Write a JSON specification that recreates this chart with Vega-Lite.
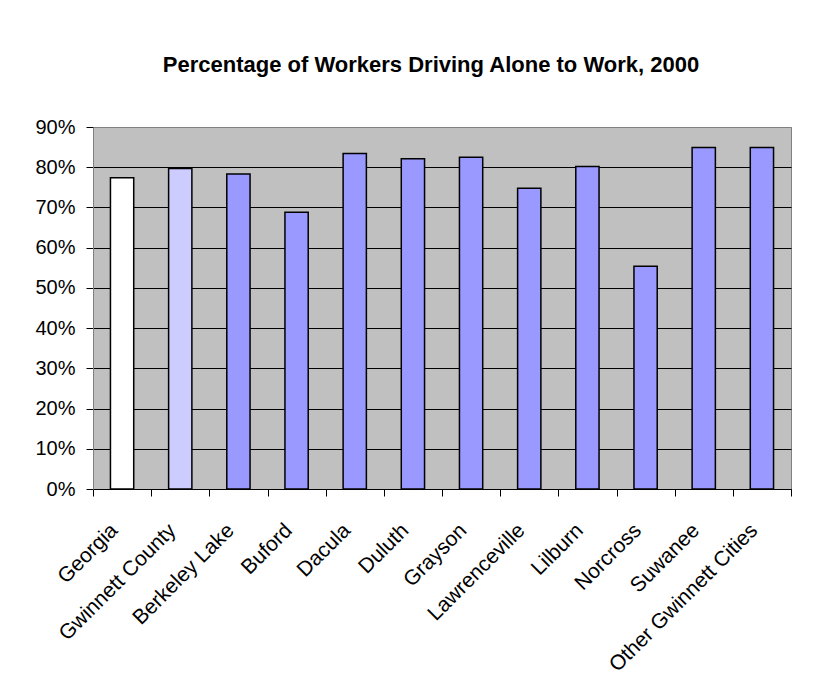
{
  "$schema": "https://vega.github.io/schema/vega-lite/v6.json",
  "width": 698,
  "height": 362,
  "autosize": {"type": "none"},
  "padding": {"left": 93, "top": 127, "right": 40, "bottom": 189},
  "background": "white",
  "title": {
    "text": "Percentage of Workers Driving Alone to Work, 2000",
    "font": "Liberation Sans",
    "fontSize": 22,
    "fontWeight": "bold",
    "color": "black",
    "anchor": "middle",
    "offset": 40,
    "dx": -11
  },
  "data": {
    "values": [
      {"place": "Georgia", "level": "State", "pct": 77.4},
      {"place": "Gwinnett County", "level": "County", "pct": 79.7},
      {"place": "Berkeley Lake", "level": "City", "pct": 78.3},
      {"place": "Buford", "level": "City", "pct": 68.8},
      {"place": "Dacula", "level": "City", "pct": 83.4},
      {"place": "Duluth", "level": "City", "pct": 82.1},
      {"place": "Grayson", "level": "City", "pct": 82.5},
      {"place": "Lawrenceville", "level": "City", "pct": 74.8},
      {"place": "Lilburn", "level": "City", "pct": 80.2},
      {"place": "Norcross", "level": "City", "pct": 55.4},
      {"place": "Suwanee", "level": "City", "pct": 84.9},
      {"place": "Other Gwinnett Cities", "level": "City", "pct": 84.9}
    ]
  },
  "mark": {"type": "bar", "stroke": "black", "strokeWidth": 1.5, "width": {"band": 0.4}},
  "encoding": {
    "x": {
      "field": "place",
      "type": "nominal",
      "sort": null,
      "scale": {"paddingInner": 0, "paddingOuter": 0},
      "axis": {
        "title": null,
        "labelAngle": -45,
        "labelAlign": "right",
        "labelBaseline": "middle",
        "labelFont": "Liberation Sans",
        "labelFontSize": 21,
        "labelColor": "black",
        "labelPadding": 31,
        "labelOffset": -8,
        "labelLimit": 0,
        "tickBand": "extent",
        "tickSize": 7,
        "tickColor": "black",
        "domainColor": "black",
        "grid": false
      }
    },
    "y": {
      "field": "pct",
      "type": "quantitative",
      "scale": {"domain": [0, 90], "nice": false},
      "axis": {
        "title": null,
        "values": [0, 10, 20, 30, 40, 50, 60, 70, 80, 90],
        "labelExpr": "datum.value + '%'",
        "labelFont": "Liberation Sans",
        "labelFontSize": 20,
        "labelColor": "black",
        "labelPadding": 11,
        "tickSize": 7,
        "tickColor": "black",
        "domainColor": "#808080",
        "grid": true,
        "gridColor": {"condition": {"test": "datum.value >= 90", "value": "#808080"}, "value": "black"},
        "gridOpacity": 1
      }
    },
    "fill": {
      "field": "level",
      "type": "nominal",
      "scale": {"domain": ["State", "County", "City"], "range": ["#FFFFFF", "#CCCCFF", "#9999FF"]},
      "legend": null
    }
  },
  "config": {
    "view": {"fill": "#C0C0C0", "stroke": "#808080", "strokeWidth": 1}
  }
}
